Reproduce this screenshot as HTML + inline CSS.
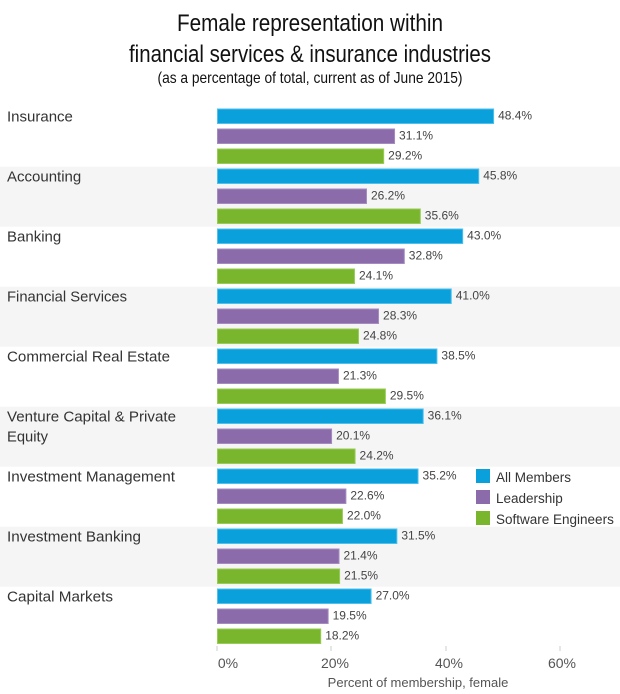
<!DOCTYPE html>
<html><head><meta charset="utf-8"><style>
html,body{margin:0;padding:0;background:#fff}
svg{display:block;font-family:"Liberation Sans",Arial,sans-serif}
</style></head><body>
<svg width="620" height="694" viewBox="0 0 620 694" xmlns="http://www.w3.org/2000/svg">
<text x="310" y="31" text-anchor="middle" font-size="24" fill="#111" textLength="266" lengthAdjust="spacingAndGlyphs">Female representation within</text>
<text x="310" y="62" text-anchor="middle" font-size="24" fill="#111" textLength="362" lengthAdjust="spacingAndGlyphs">financial services &amp; insurance industries</text>
<text x="310" y="83" text-anchor="middle" font-size="16" fill="#111" textLength="305" lengthAdjust="spacingAndGlyphs">(as a percentage of total, current as of June 2015)</text>
<g id="rows"></g>
<g stroke="#ccc"><line x1="217" y1="646" x2="217" y2="651"/><line x1="331" y1="646" x2="331" y2="651"/><line x1="446" y1="646" x2="446" y2="651"/><line x1="560" y1="646" x2="560" y2="651"/></g>
<g font-size="14" fill="#555" text-anchor="middle">
<text x="228" y="668">0%</text><text x="335" y="668">20%</text><text x="449" y="668">40%</text><text x="562" y="668">60%</text>
</g>
<text x="418" y="687" font-size="13" fill="#555" text-anchor="middle">Percent of membership, female</text>
<rect x="476" y="469" width="14" height="14" fill="#0aa0dc"/>
<rect x="476" y="490" width="14" height="14" fill="#8c6bab"/>
<rect x="476" y="511" width="14" height="14" fill="#7ab52e"/>
<g font-size="13.5" fill="#333"><text x="496" y="482">All Members</text><text x="496" y="503">Leadership</text><text x="496" y="524">Software Engineers</text></g>
</svg>
<script>
var d=[["Insurance",48.4,31.1,29.2],["Accounting",45.8,26.2,35.6],["Banking",43.0,32.8,24.1],["Financial Services",41.0,28.3,24.8],["Commercial Real Estate",38.5,21.3,29.5],["Venture Capital & Private|Equity",36.1,20.1,24.2],["Investment Management",35.2,22.6,22.0],["Investment Banking",31.5,21.4,21.5],["Capital Markets",27.0,19.5,18.2]];
var W={"Financial Services":120,"Commercial Real Estate":163,"Venture Capital & Private":169,"Equity":41,"Investment Management":168,"Investment Banking":134,"Capital Markets":106};
var c=["#0aa0dc","#8c6bab","#7ab52e"],s=["#4fc0ec","#a58cc0","#98cc55"],h="";
d.forEach(function(r,i){var y=106.7+60*i;
if(i%2)h+='<rect x="0" y="'+y+'" width="620" height="60" fill="#f5f5f5"/>';
var L=r[0].split("|");L.forEach(function(t,k){var tl=W[t]?' textLength="'+W[t]+'" lengthAdjust="spacingAndGlyphs"':'';h+='<text x="7" y="'+(y+15+20*k)+'" font-size="15" fill="#333"'+tl+'>'+t.replace("&","&amp;")+'</text>';});
for(var j=0;j<3;j++){var by=y+1.8+20*j,w=r[j+1]*5.725;
h+='<rect x="217.5" y="'+(by+0.5)+'" width="'+(w-1)+'" height="14.5" fill="'+c[j]+'" stroke="'+s[j]+'" stroke-width="1"/>';
h+='<text x="'+(217+w+4)+'" y="'+(by+11)+'" font-size="12" fill="#444">'+r[j+1].toFixed(1)+'%</text>';}
});
document.getElementById("rows").innerHTML=h;
</script>
</body></html>
